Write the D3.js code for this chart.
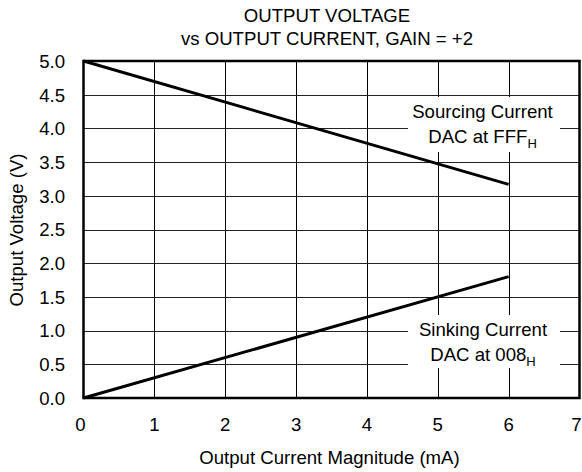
<!DOCTYPE html>
<html><head><meta charset="utf-8">
<script src="https://cdn.jsdelivr.net/npm/d3@7"></script>
<style>
html,body{margin:0;padding:0;background:#fff;}
svg{display:block;font-family:"Liberation Sans",Arial,sans-serif;}
</style></head>
<body>
<script>
const titleLines = ["OUTPUT VOLTAGE", "vs OUTPUT CURRENT, GAIN = +2"];
const xTicks = [0,1,2,3,4,5,6,7];
const yTicks = [0,0.5,1,1.5,2,2.5,3,3.5,4,4.5,5];
const sourcingCurrent = [0, 6];
const sourcingVoltage = [5.0, 3.17];
const sinkingCurrent = [0, 6];
const sinkingVoltage = [0.0, 1.8];
const xLabel = "Output Current Magnitude (mA)";
const yLabel = "Output Voltage (V)";

const W = 582, H = 472;
const fs = 18.6;
const svg = d3.select("body").append("svg").attr("width", W).attr("height", H);
const x = d3.scaleLinear().domain([0,7]).range([83.5, 579.5]);
const y = d3.scaleLinear().domain([0,5]).range([398, 61]);

// grid
svg.append("g").selectAll("line").data(xTicks.slice(1,-1)).join("line")
  .attr("x1", d=>Math.round(x(d))+0.5).attr("x2", d=>Math.round(x(d))+0.5)
  .attr("y1", y(5)).attr("y2", y(0)).attr("stroke","#000").attr("stroke-width",1);
svg.append("g").selectAll("line").data(yTicks.slice(1,-1)).join("line")
  .attr("y1", d=>Math.round(y(d))+0.5).attr("y2", d=>Math.round(y(d))+0.5)
  .attr("x1", x(0)).attr("x2", x(7)).attr("stroke","#222").attr("stroke-width",1);

// label boxes (white backgrounds)
const boxes = [
  {x0:408, x1:560, y0:97, y1:152},
  {x0:408, x1:560, y0:315, y1:368}
];
svg.append("g").selectAll("rect").data(boxes).join("rect")
  .attr("x", d=>d.x0).attr("y", d=>d.y0).attr("width", d=>d.x1-d.x0).attr("height", d=>d.y1-d.y0)
  .attr("fill","#fff");

// border
svg.append("rect").attr("x", x(0)).attr("y", y(5)).attr("width", x(7)-x(0)).attr("height", y(0)-y(5))
  .attr("fill","none").attr("stroke","#000").attr("stroke-width",2.5);

// data lines
const line = d3.line().x(d=>x(d[0])).y(d=>y(d[1]));
svg.append("path").datum(d3.zip(sourcingCurrent, sourcingVoltage)).attr("d", line)
  .attr("fill","none").attr("stroke","#000").attr("stroke-width",3);
svg.append("path").datum(d3.zip(sinkingCurrent, sinkingVoltage)).attr("d", line)
  .attr("fill","none").attr("stroke","#000").attr("stroke-width",3);

// tick labels
svg.append("g").selectAll("text").data(yTicks).join("text")
  .attr("x", 65).attr("y", d=>y(d)+6.8).attr("text-anchor","end")
  .attr("font-size", fs).text(d=>d3.format(".1f")(d));
svg.append("g").selectAll("text").data(xTicks).join("text")
  .attr("x", d=>x(d) - (d===0||d===7 ? 3 : 0)).attr("y", 431).attr("text-anchor","middle")
  .attr("font-size", fs).text(d=>d);

// axis titles
svg.append("text").attr("x", 329.5).attr("y", 464).attr("text-anchor","middle")
  .attr("font-size", fs).text(xLabel);
svg.append("text").attr("transform","translate(23,230) rotate(-90)").attr("text-anchor","middle")
  .attr("font-size", fs).text(yLabel);

// title
svg.append("g").selectAll("text").data(titleLines).join("text")
  .attr("x", 327).attr("y", (d,i)=>21.5 + i*23).attr("text-anchor","middle")
  .attr("font-size", fs).text(d=>d);

// annotations
function annot(cx, yb, l1, l2main, l2sub){
  svg.append("text").attr("x", cx).attr("y", yb).attr("text-anchor","middle").attr("font-size", fs).text(l1);
  const t = svg.append("text").attr("x", cx).attr("y", yb+25).attr("text-anchor","middle").attr("font-size", fs);
  t.append("tspan").text(l2main);
  t.append("tspan").attr("font-size", 13).attr("dy", 5).text(l2sub);
}
annot(482.5, 118.3, "Sourcing Current", "DAC at FFF", "H");
annot(483, 335.6, "Sinking Current", "DAC at 008", "H");
</script>
</body></html>
